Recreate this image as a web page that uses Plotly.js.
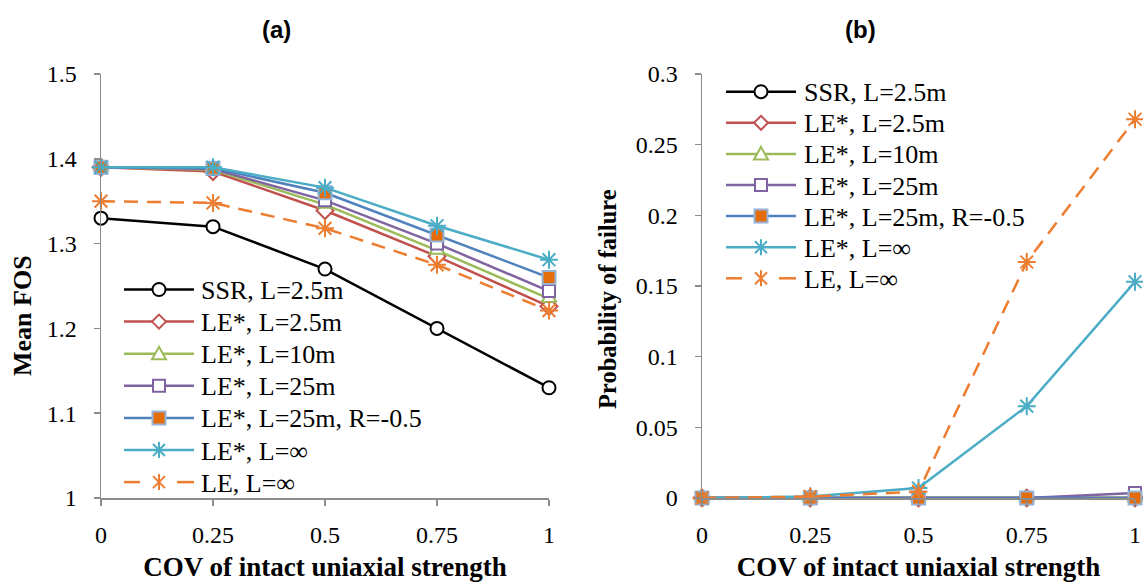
<!DOCTYPE html>
<html>
<head>
<meta charset="utf-8">
<script src="https://cdn.plot.ly/plotly-3.0.1.min.js"></script>
<style>
html,body{margin:0;padding:0;background:#ffffff;}
#chart{width:1143px;height:582px;}
</style>
</head>
<body>
<div id="chart"></div>
<script>
// ---------------- DATA ----------------
const cov = [0, 0.25, 0.5, 0.75, 1];
const xTickLabels = ['0', '0.25', '0.5', '0.75', '1'];
const seriesNames = ['SSR, L=2.5m', 'LE*, L=2.5m', 'LE*, L=10m', 'LE*, L=25m',
                     'LE*, L=25m, R=-0.5', 'LE*, L=\u221E', 'LE, L=\u221E'];

// (a) Mean FOS
const fosSSR25   = [1.330, 1.320, 1.270, 1.200, 1.130];
const fosLE25    = [1.390, 1.385, 1.339, 1.285, 1.226];
const fosLE10    = [1.390, 1.387, 1.346, 1.292, 1.235];
const fosLE25m   = [1.390, 1.388, 1.351, 1.300, 1.244];
const fosLE25mR  = [1.390, 1.389, 1.360, 1.310, 1.260];
const fosLEstInf = [1.390, 1.390, 1.366, 1.321, 1.281];
const fosLEInf   = [1.350, 1.348, 1.318, 1.275, 1.221];

// (b) Probability of failure
const pfSSR25   = [0, 0, 0, 0, 0];
const pfLE25    = [0, 0, 0, 0, 0];
const pfLE10    = [0, 0, 0, 0, 0];
const pfLE25m   = [0, 0, 0, 0, 0.0035];
const pfLE25mR  = [0, 0, 0, 0, 0];
const pfLEstInf = [0, 0.001, 0.007, 0.065, 0.153];
const pfLEInf   = [0, 0.001, 0.0045, 0.167, 0.268];

const fosSeries = [fosSSR25, fosLE25, fosLE10, fosLE25m, fosLE25mR, fosLEstInf, fosLEInf];
const pfSeries  = [pfSSR25, pfLE25, pfLE10, pfLE25m, pfLE25mR, pfLEstInf, pfLEInf];

// ---------------- STYLES ----------------
const styles = [
  {color:'#000000', dash:'solid', sym:'circle',       size:13, fill:'#ffffff', mline:'#000000', shape:'circle'},
  {color:'#C0504D', dash:'solid', sym:'diamond',      size:13, fill:'#ffffff', mline:'#C0504D', shape:'diamond'},
  {color:'#9BBB59', dash:'solid', sym:'triangle-up',  size:13, fill:'#ffffff', mline:'#9BBB59', shape:'triangle'},
  {color:'#8064A2', dash:'solid', sym:'square',       size:12, fill:'#ffffff', mline:'#8064A2', shape:'square'},
  {color:'#4F81BD', dash:'solid', sym:'square',       size:13, fill:'#E46C0A', mline:'#95B3D7', shape:'fsquare'},
  {color:'#4BACC6', dash:'solid', sym:'asterisk-open',size:15, fill:'#4BACC6', mline:'#4BACC6', shape:'asterisk'},
  {color:'#ED7D31', dash:'14px,9px', sym:'asterisk-open',size:15, fill:'#ED7D31', mline:'#ED7D31', shape:'asterisk'}
];

const W = 1143, H = 582, ML = 101, MR = 8, MT = 74, MB = 84;
const PW = W - ML - MR, PH = H - MT - MB;
function fx(p){ return (p - ML) / PW; }
function fy(p){ return (H - MB - p) / PH; }

const serif = 'Liberation Serif';
function tickFont(){ return {family: 'Liberation Serif', size: 24, color: '#000000'}; }
function titleFont(sz){ return {family: serif, size: sz, color: '#000000', weight: 'bold'}; }
const axisGray = '#8C8C8C';

// ---------------- TRACES ----------------
const traces = [];
function addTraces(seriesList, xa, ya){
  seriesList.forEach((ys, i) => {
    const st = styles[i];
    traces.push({
      type: 'scatter', mode: 'lines+markers',
      x: cov, y: ys, xaxis: xa, yaxis: ya,
      name: seriesNames[i], showlegend: false, cliponaxis: false,
      line: {color: st.color, width: 2.5, dash: st.dash},
      marker: {symbol: st.sym, size: st.size, color: st.fill,
               line: {color: st.mline, width: 2}}
    });
  });
}
addTraces(fosSeries, 'x', 'y');
addTraces(pfSeries, 'x2', 'y2');

// ---------------- LEGENDS (drawn as layout decoration) ----------------
const shapes = [];
const annotations = [];
function markerShape(st, cx, cy){
  const base = {xref:'paper', yref:'paper', xsizemode:'pixel', ysizemode:'pixel',
                xanchor: fx(cx), yanchor: fy(cy), layer:'above'};
  const ln = {color: st.mline, width: 2};
  switch(st.shape){
    case 'circle':   return Object.assign(base, {type:'circle', x0:-6.5, x1:6.5, y0:-6.5, y1:6.5, fillcolor:'#fff', line:ln});
    case 'diamond':  return Object.assign(base, {type:'path', path:'M0,7L7,0L0,-7L-7,0Z', fillcolor:'#fff', line:ln});
    case 'triangle': return Object.assign(base, {type:'path', path:'M-7,-5.5L7,-5.5L0,7Z', fillcolor:'#fff', line:ln});
    case 'square':   return Object.assign(base, {type:'path', path:'M-6,-6H6V6H-6Z', fillcolor:'#fff', line:ln});
    case 'fsquare':  return Object.assign(base, {type:'path', path:'M-6.5,-6.5H6.5V6.5H-6.5Z', fillcolor:st.fill, line:ln});
    default:         return Object.assign(base, {type:'path', path:'M0,-8V8M-6,-6L6,6M-6,6L6,-6', line:ln});
  }
}
function buildLegend(cfg){
  seriesNames.forEach((name, i) => {
    const st = styles[i];
    const cy = cfg.y0 + i * cfg.dy;
    const segs = st.dash === 'solid' ? [[0, 70]] : [[0, 16], [53, 70]];
    segs.forEach(s => shapes.push({type:'line', xref:'paper', yref:'paper',
      x0: fx(cfg.x0 + s[0]), x1: fx(cfg.x0 + s[1]), y0: fy(cy), y1: fy(cy),
      line: {color: st.color, width: 2.5}, layer:'above'}));
    shapes.push(markerShape(st, cfg.x0 + 35, cy));
    annotations.push({xref:'paper', yref:'paper', x: fx(cfg.textX), y: fy(cy + 1),
      xanchor:'left', yanchor:'middle', showarrow:false, text: name,
      font: {family: serif, size: 26, color:'#000000'}});
  });
}
buildLegend({x0: 124, textX: 199, y0: 289.5, dy: 32.1});
buildLegend({x0: 726, textX: 802, y0: 91.7, dy: 31.1});

// panel and y-axis titles
const sansBold = {family:'Liberation Sans', size:24, color:'#000000', weight:'bold'};
annotations.push({xref:'paper', yref:'paper', x: fx(276), y: fy(29), xanchor:'center', yanchor:'middle',
  showarrow:false, text:'(a)', font: Object.assign({}, sansBold)});
annotations.push({xref:'paper', yref:'paper', x: fx(860), y: fy(29), xanchor:'center', yanchor:'middle',
  showarrow:false, text:'(b)', font: Object.assign({}, sansBold)});
annotations.push({xref:'paper', yref:'paper', x: fx(22), y: fy(316), xanchor:'center', yanchor:'middle',
  showarrow:false, textangle:-90, text:'Mean FOS', font: titleFont(26)});
annotations.push({xref:'paper', yref:'paper', x: fx(607), y: fy(299), xanchor:'center', yanchor:'middle',
  showarrow:false, textangle:-90, text:'Probability of failure', font: titleFont(24.5)});

// ---------------- AXES ----------------
function xAxis(domain, anchor){
  return {domain: domain, anchor: anchor, range: [0, 1], tickmode: 'array', tickvals: cov, ticktext: xTickLabels,
    showline: true, linecolor: axisGray, linewidth: 1.5, ticks: 'outside', ticklen: 6, tickwidth: 1.5,
    tickcolor: axisGray, tickfont: tickFont(), ticklabelstandoff: 9, showgrid: false, zeroline: false,
    title: {text: 'COV of intact uniaxial strength', font: titleFont(27), standoff: 15}};
}
function yAxis(range, dtick, anchor){
  return {domain: [0, 1], anchor: anchor, range: range, tick0: range[0], dtick: dtick,
    showline: true, linecolor: axisGray, linewidth: 1.5, ticks: 'outside', ticklen: 6, tickwidth: 1.5,
    tickcolor: axisGray, tickfont: tickFont(), ticklabelstandoff: 12, showgrid: false, zeroline: false};
}

const layout = {
  width: W, height: H,
  font: {family: 'Liberation Serif', size: 24, color: '#000000'},
  margin: {l: ML, r: MR, t: MT, b: MB},
  paper_bgcolor: '#ffffff', plot_bgcolor: '#ffffff',
  showlegend: false,
  xaxis: xAxis([0, fx(549)], 'y'),
  yaxis: yAxis([1, 1.5], 0.1, 'x'),
  xaxis2: xAxis([fx(702), 1], 'y2'),
  yaxis2: yAxis([0, 0.3], 0.05, 'x2'),
  shapes: shapes,
  annotations: annotations
};

Plotly.newPlot('chart', traces, layout, {displayModeBar: false, staticPlot: true});
</script>
</body>
</html>
